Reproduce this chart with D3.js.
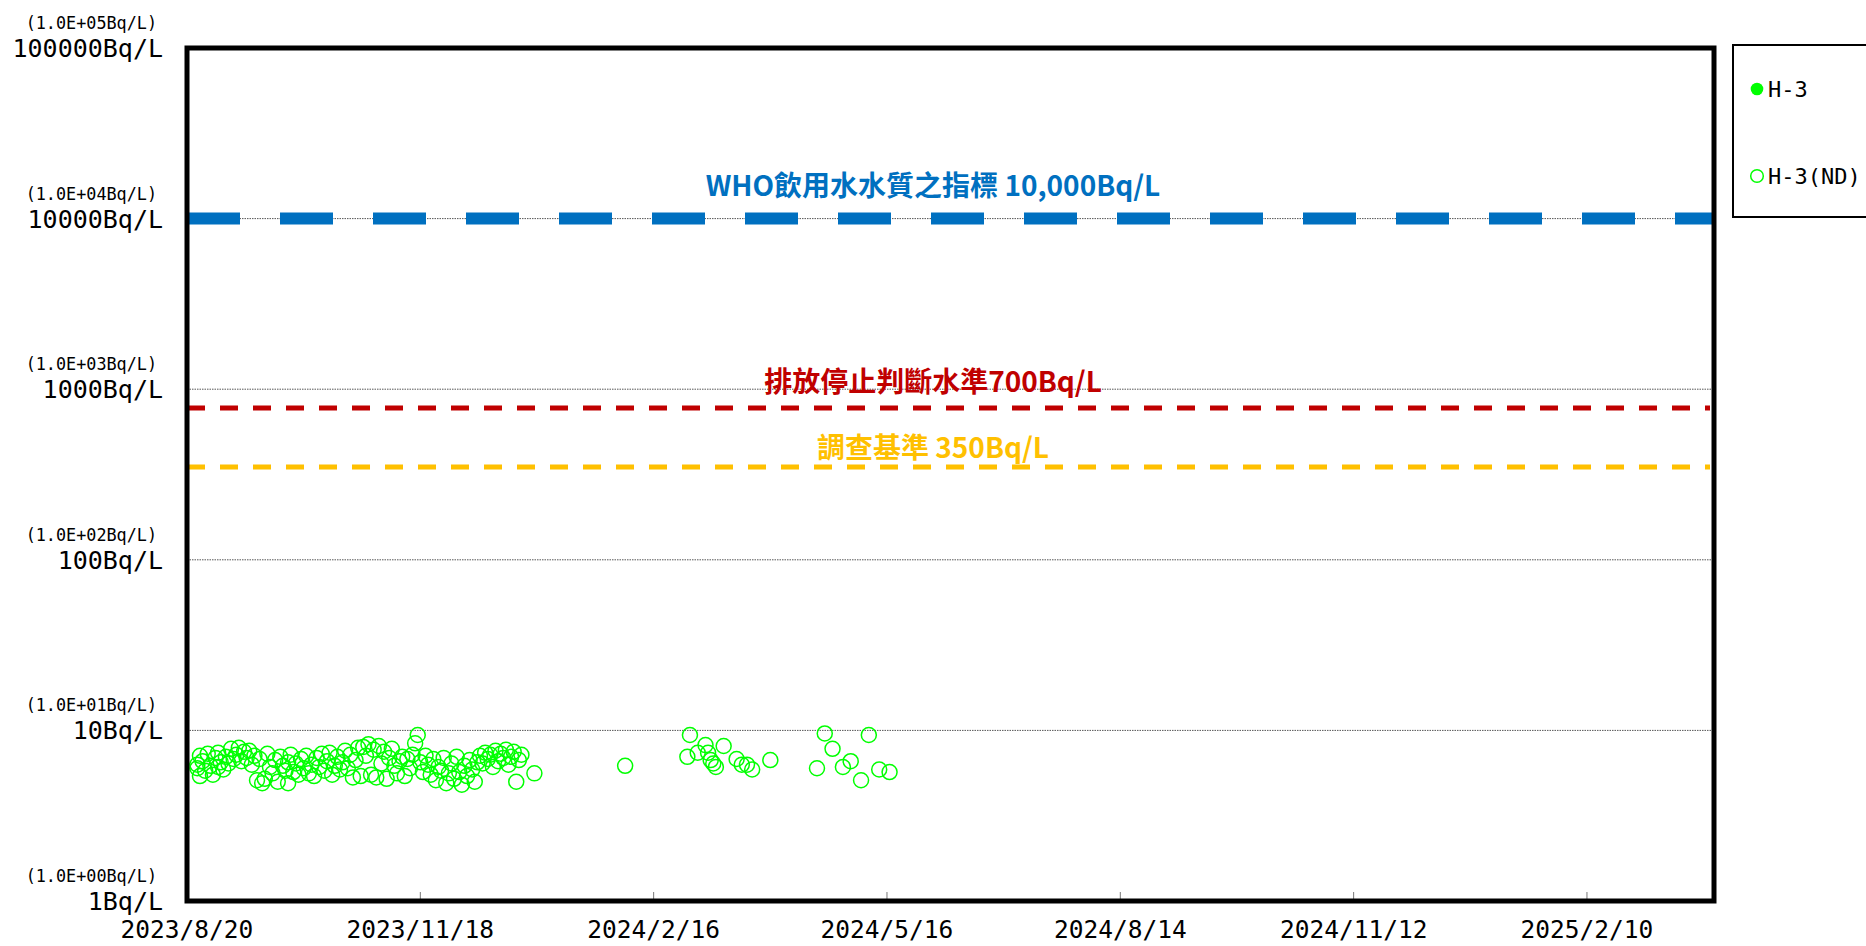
<!DOCTYPE html>
<html>
  <head>
    <meta charset="utf-8">
    <title>H-3</title>
    <script src="https://d3js.org/d3.v7.min.js"></script>
<style type="text/css">
body{
  margin:0;
  background-color:#fff;
}
.mono{
  font-family:'DejaVu Sans Mono', monospace;
  fill:#000;
}
.note{
  font-family:'Noto Sans CJK TC', sans-serif;
  font-weight:bold;
}
</style>
  </head>
  <body>
<svg id="chart" width="1866" height="946"></svg>
<script>
// ---- data ----
var xTickDates = ["2023/8/20","2023/11/18","2024/2/16","2024/5/16","2024/8/14","2024/11/12","2025/2/10"];
var xEnd = "2025/3/31";

var yTickValues = [1, 10, 100, 1000, 10000, 100000];
var yTickLabels = ["1Bq/L","10Bq/L","100Bq/L","1000Bq/L","10000Bq/L","100000Bq/L"];
var yTickSubLabels = ["(1.0E+00Bq/L)","(1.0E+01Bq/L)","(1.0E+02Bq/L)","(1.0E+03Bq/L)","(1.0E+04Bq/L)","(1.0E+05Bq/L)"];

var thresholdValues = [10000, 775, 350];
var thresholdLabels = ["WHO飲用水水質之指標 10,000Bq/L", "排放停止判斷水準700Bq/L", "調查基準 350Bq/L"];

var seriesNames = ["H-3", "H-3(ND)"];

// H-3 detected: none in this period
var h3Dates = [];
var h3Values = [];

// H-3 below detection limit (ND), plotted at the detection limit
var ndDates = [
 "2023/8/24","2023/8/24","2023/8/25","2023/8/25","2023/8/26","2023/8/27","2023/8/28","2023/8/29","2023/8/30","2023/8/31",
 "2023/9/1","2023/9/1","2023/9/2","2023/9/3","2023/9/4","2023/9/5","2023/9/6","2023/9/7","2023/9/8","2023/9/9",
 "2023/9/10","2023/9/11","2023/9/12","2023/9/13","2023/9/14","2023/9/15","2023/9/16","2023/9/17","2023/9/18","2023/9/19",
 "2023/9/20","2023/9/21","2023/9/22","2023/9/23","2023/9/24","2023/9/25","2023/9/26","2023/9/27","2023/9/28","2023/9/28",
 "2023/9/29","2023/9/30",
 "2023/10/1","2023/10/2","2023/10/3","2023/10/4","2023/10/5","2023/10/6","2023/10/7","2023/10/8","2023/10/9","2023/10/10",
 "2023/10/11","2023/10/12","2023/10/13","2023/10/14","2023/10/15","2023/10/16","2023/10/17","2023/10/18","2023/10/19","2023/10/20",
 "2023/10/21","2023/10/22","2023/10/23","2023/10/24","2023/10/25","2023/10/26","2023/10/27","2023/10/28","2023/10/29","2023/10/30",
 "2023/10/31",
 "2023/11/1","2023/11/2","2023/11/3","2023/11/4","2023/11/5","2023/11/6","2023/11/7","2023/11/8","2023/11/9","2023/11/10",
 "2023/11/11","2023/11/12","2023/11/13","2023/11/14","2023/11/15","2023/11/16","2023/11/17","2023/11/18","2023/11/19","2023/11/20",
 "2023/11/21","2023/11/22","2023/11/23","2023/11/24","2023/11/25","2023/11/26","2023/11/27","2023/11/28","2023/11/29","2023/11/30",
 "2023/12/1","2023/12/2","2023/12/3","2023/12/4","2023/12/5","2023/12/6","2023/12/7","2023/12/8","2023/12/9","2023/12/10",
 "2023/12/11","2023/12/12","2023/12/13","2023/12/14","2023/12/15","2023/12/16","2023/12/17","2023/12/18","2023/12/19","2023/12/20",
 "2023/12/21","2023/12/22","2023/12/23","2023/12/24","2023/12/25","2023/12/26","2023/12/27",
 "2024/1/1",
 "2024/2/5",
 "2024/2/29","2024/3/1","2024/3/4","2024/3/7","2024/3/8","2024/3/9","2024/3/10","2024/3/11","2024/3/14","2024/3/19",
 "2024/3/21","2024/3/23","2024/3/25","2024/4/1",
 "2024/4/19","2024/4/22","2024/4/25","2024/4/29","2024/5/2","2024/5/6","2024/5/9","2024/5/13","2024/5/17"
];
var ndValues = [
 6.3,6.0,5.4,7.1,6.6,5.8,7.3,6.2,5.5,6.9,
 7.4,6.1,6.5,5.9,7.0,6.4,7.8,6.8,7.2,7.9,
 6.6,7.5,6.9,7.6,6.3,7.1,5.1,6.8,4.9,5.2,
 7.3,6.1,5.6,6.7,5.0,7.0,6.2,5.8,6.5,4.9,
 7.2,5.7,
 6.4,5.5,6.8,6.0,7.1,5.6,6.3,5.4,6.9,6.1,
 7.3,5.8,6.6,7.4,5.5,6.2,7.0,5.9,6.5,7.6,
 6.0,7.2,5.3,6.7,7.9,5.4,8.0,7.1,8.3,5.5,
 7.7,
 5.3,8.1,6.4,7.5,5.2,6.9,7.8,6.2,5.6,6.6,
 7.0,5.4,6.8,6.0,7.2,8.4,9.4,6.5,5.7,7.1,
 6.3,5.5,6.8,5.1,6.1,5.8,6.9,4.9,5.6,6.4,
 5.2,7.0,5.7,4.8,6.2,5.4,6.7,5.9,5.0,6.5,
 7.1,6.4,7.4,6.8,7.2,6.1,7.6,6.6,7.3,6.9,
 7.7,6.3,7.0,7.5,5.0,6.7,7.2,
 5.6,
 6.2,
 7.0,9.4,7.4,8.2,7.4,6.7,6.4,6.1,8.1,6.8,
 6.3,6.3,5.9,6.7,
 6.0,9.6,7.8,6.1,6.6,5.1,9.4,5.9,5.7
];

// ---- layout ----
var svg = d3.select("#chart"),
    plotLeft = 187, plotRight = 1714, plotTop = 48, plotBottom = 901;

var parse = d3.timeParse("%Y/%m/%d");
var fmt = d3.timeFormat("%Y/%-m/%-d");

var x = d3.scaleTime()
    .domain([parse(xTickDates[0]), parse(xEnd)])
    .range([plotLeft, plotRight]);

var y = d3.scaleLog()
    .domain([1, 100000])
    .range([plotBottom, plotTop]);

svg.append("rect").attr("width", 1866).attr("height", 946).attr("fill", "#fff");

// gridlines
svg.append("g").selectAll("line")
  .data(yTickValues.slice(1, 5))
  .enter().append("line")
    .attr("x1", plotLeft).attr("x2", plotRight)
    .attr("y1", function(d) { return y(d); })
    .attr("y2", function(d) { return y(d); })
    .attr("stroke", "#555")
    .attr("stroke-width", 1)
    .attr("stroke-dasharray", "1.5,1");

// y labels
var yl = svg.append("g");
yl.selectAll("text.big")
  .data(yTickValues)
  .enter().append("text")
    .attr("class", "mono big")
    .attr("x", 163)
    .attr("y", function(d) { return y(d); })
    .attr("dy", "0.36em")
    .attr("text-anchor", "end")
    .style("font-size", "25px")
    .text(function(d, i) { return yTickLabels[i]; });
yl.selectAll("text.small")
  .data(yTickValues)
  .enter().append("text")
    .attr("class", "mono small")
    .attr("x", 157)
    .attr("y", function(d) { return y(d) - 25; })
    .attr("dy", "0.36em")
    .attr("text-anchor", "end")
    .style("font-size", "16.8px")
    .text(function(d, i) { return yTickSubLabels[i]; });

// x axis ticks + labels
var xt = xTickDates.map(parse);
svg.append("g").selectAll("line")
  .data(xt)
  .enter().append("line")
    .attr("x1", function(d) { return x(d); })
    .attr("x2", function(d) { return x(d); })
    .attr("y1", plotBottom - 9).attr("y2", plotBottom)
    .attr("stroke", "#777").attr("stroke-width", 1);
svg.append("g").selectAll("text")
  .data(xt)
  .enter().append("text")
    .attr("class", "mono")
    .attr("x", function(d) { return x(d); })
    .attr("y", 938)
    .attr("text-anchor", "middle")
    .style("font-size", "24.5px")
    .text(function(d) { return fmt(d); });

// threshold lines
var lineStyle = [
  {color: "#0070C0", width: 12, dash: "53,40", x2: plotRight, dy: -32},
  {color: "#C00000", width: 5, dash: "18,15", x2: plotRight - 4, dy: -26},
  {color: "#FFC000", width: 5, dash: "18,15", x2: plotRight - 4, dy: -19}
];
var th = svg.append("g");
th.selectAll("line")
  .data(thresholdValues)
  .enter().append("line")
    .attr("x1", plotLeft)
    .attr("x2", function(d, i) { return lineStyle[i].x2; })
    .attr("y1", function(d) { return y(d); })
    .attr("y2", function(d) { return y(d); })
    .attr("stroke", function(d, i) { return lineStyle[i].color; })
    .attr("stroke-width", function(d, i) { return lineStyle[i].width; })
    .attr("stroke-dasharray", function(d, i) { return lineStyle[i].dash; });
th.selectAll("text")
  .data(thresholdValues)
  .enter().append("text")
    .attr("class", "note")
    .attr("x", 933)
    .attr("y", function(d, i) { return y(d) + lineStyle[i].dy; })
    .attr("dy", "0.35em")
    .attr("text-anchor", "middle")
    .attr("fill", function(d, i) { return lineStyle[i].color; })
    .style("font-size", "28px")
    .text(function(d, i) { return thresholdLabels[i]; });

// points
var nd = ndDates.map(function(d, i) { return {date: parse(d), value: ndValues[i]}; });
var det = h3Dates.map(function(d, i) { return {date: parse(d), value: h3Values[i]}; });

svg.append("g").selectAll("circle")
  .data(nd)
  .enter().append("circle")
    .attr("cx", function(d) { return x(d.date); })
    .attr("cy", function(d) { return y(d.value); })
    .attr("r", 7.5)
    .attr("fill", "none")
    .attr("stroke", "#00FF00")
    .attr("stroke-width", 1.5);

svg.append("g").selectAll("circle")
  .data(det)
  .enter().append("circle")
    .attr("cx", function(d) { return x(d.date); })
    .attr("cy", function(d) { return y(d.value); })
    .attr("r", 7.5)
    .attr("fill", "#00FF00");

// frame
svg.append("rect")
  .attr("x", plotLeft).attr("y", plotTop)
  .attr("width", plotRight - plotLeft).attr("height", plotBottom - plotTop)
  .attr("fill", "none")
  .attr("stroke", "#000")
  .attr("stroke-width", 5);

// legend
var lg = svg.append("g");
lg.append("rect")
  .attr("x", 1733).attr("y", 45)
  .attr("width", 160).attr("height", 172)
  .attr("fill", "#fff").attr("stroke", "#000").attr("stroke-width", 2);
lg.append("circle").attr("cx", 1757).attr("cy", 89).attr("r", 6.3).attr("fill", "#00FF00");
lg.append("circle").attr("cx", 1757).attr("cy", 176).attr("r", 6.3)
  .attr("fill", "none").attr("stroke", "#00FF00").attr("stroke-width", 1.5);
lg.selectAll("text")
  .data(seriesNames)
  .enter().append("text")
    .attr("class", "mono")
    .attr("x", 1768)
    .attr("y", function(d, i) { return i == 0 ? 89 : 176; })
    .attr("dy", "0.36em")
    .style("font-size", "22px")
    .text(function(d) { return d; });
</script>
  </body>
</html>
